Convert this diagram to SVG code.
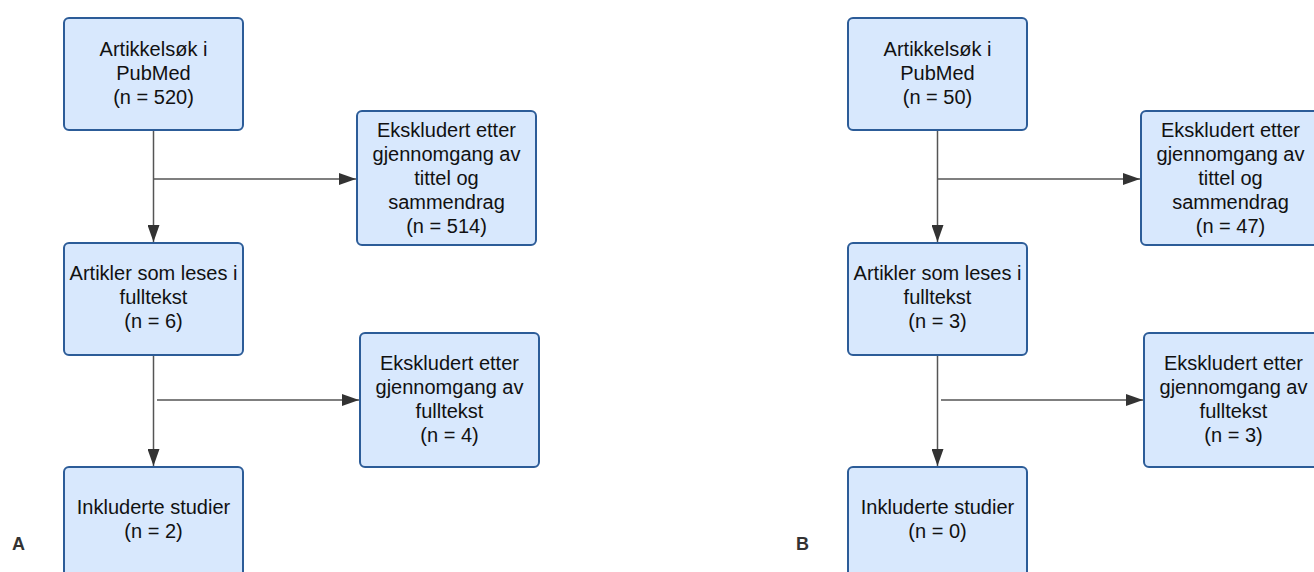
<svg xmlns="http://www.w3.org/2000/svg" width="1314" height="572" viewBox="0 0 1314 572">
<style>
.box{fill:#d8e8fd;stroke:#2c5c98;stroke-width:2}
.t{font-family:"Liberation Sans",Arial,sans-serif;font-size:20px;fill:#111;text-anchor:middle}
.lbl{font-family:"Liberation Sans",Arial,sans-serif;font-size:18px;font-weight:bold;fill:#333}
.c{stroke:#555;stroke-width:1.5;fill:none}
</style>
<defs>
<marker id="ah" markerWidth="18" markerHeight="12" refX="17" refY="6" orient="auto" markerUnits="userSpaceOnUse">
<path d="M0,0 L17,6 L0,12 Z" fill="#333"/>
</marker>
</defs>
<rect width="1314" height="572" fill="#fff"/>
<g id="connectors">
<line class="c" x1="153.5" y1="131" x2="153.5" y2="242" marker-end="url(#ah)"/>
<line class="c" x1="154" y1="179" x2="356" y2="179" marker-end="url(#ah)"/>
<line class="c" x1="153.5" y1="356" x2="153.5" y2="466" marker-end="url(#ah)"/>
<line class="c" x1="157" y1="400" x2="359" y2="400" marker-end="url(#ah)"/>
<line class="c" x1="937.5" y1="131" x2="937.5" y2="242" marker-end="url(#ah)"/>
<line class="c" x1="938" y1="179" x2="1140" y2="179" marker-end="url(#ah)"/>
<line class="c" x1="937.5" y1="356" x2="937.5" y2="466" marker-end="url(#ah)"/>
<line class="c" x1="941" y1="400" x2="1143" y2="400" marker-end="url(#ah)"/>
</g>
<g id="a-search">
<rect class="box" x="64" y="18" width="179" height="112" rx="5"/>
<text class="t" x="153.5" y="56">Artikkelsøk i</text>
<text class="t" x="153.5" y="80">PubMed</text>
<text class="t" x="153.5" y="104">(n = 520)</text>
</g>
<g id="a-excl1">
<rect class="box" x="357" y="111" width="179" height="134" rx="5"/>
<text class="t" x="446.5" y="137">Ekskludert etter</text>
<text class="t" x="446.5" y="161">gjennomgang av</text>
<text class="t" x="446.5" y="185">tittel og</text>
<text class="t" x="446.5" y="209">sammendrag</text>
<text class="t" x="446.5" y="233">(n = 514)</text>
</g>
<g id="a-full">
<rect class="box" x="64" y="243" width="179" height="112" rx="5"/>
<text class="t" x="153.5" y="280">Artikler som leses i</text>
<text class="t" x="153.5" y="304">fulltekst</text>
<text class="t" x="153.5" y="328">(n = 6)</text>
</g>
<g id="a-excl2">
<rect class="box" x="360" y="333" width="179" height="134" rx="5"/>
<text class="t" x="449.5" y="370">Ekskludert etter</text>
<text class="t" x="449.5" y="394">gjennomgang av</text>
<text class="t" x="449.5" y="418">fulltekst</text>
<text class="t" x="449.5" y="442">(n = 4)</text>
</g>
<g id="a-incl">
<rect class="box" x="64" y="467" width="179" height="112" rx="5"/>
<text class="t" x="153.5" y="514">Inkluderte studier</text>
<text class="t" x="153.5" y="538">(n = 2)</text>
</g>
<g id="b-search">
<rect class="box" x="848" y="18" width="179" height="112" rx="5"/>
<text class="t" x="937.5" y="56">Artikkelsøk i</text>
<text class="t" x="937.5" y="80">PubMed</text>
<text class="t" x="937.5" y="104">(n = 50)</text>
</g>
<g id="b-excl1">
<rect class="box" x="1141" y="111" width="179" height="134" rx="5"/>
<text class="t" x="1230.5" y="137">Ekskludert etter</text>
<text class="t" x="1230.5" y="161">gjennomgang av</text>
<text class="t" x="1230.5" y="185">tittel og</text>
<text class="t" x="1230.5" y="209">sammendrag</text>
<text class="t" x="1230.5" y="233">(n = 47)</text>
</g>
<g id="b-full">
<rect class="box" x="848" y="243" width="179" height="112" rx="5"/>
<text class="t" x="937.5" y="280">Artikler som leses i</text>
<text class="t" x="937.5" y="304">fulltekst</text>
<text class="t" x="937.5" y="328">(n = 3)</text>
</g>
<g id="b-excl2">
<rect class="box" x="1144" y="333" width="179" height="134" rx="5"/>
<text class="t" x="1233.5" y="370">Ekskludert etter</text>
<text class="t" x="1233.5" y="394">gjennomgang av</text>
<text class="t" x="1233.5" y="418">fulltekst</text>
<text class="t" x="1233.5" y="442">(n = 3)</text>
</g>
<g id="b-incl">
<rect class="box" x="848" y="467" width="179" height="112" rx="5"/>
<text class="t" x="937.5" y="514">Inkluderte studier</text>
<text class="t" x="937.5" y="538">(n = 0)</text>
</g>
<g id="labels">
<text class="lbl" x="12" y="550">A</text>
<text class="lbl" x="796" y="550">B</text>
</g>
</svg>
